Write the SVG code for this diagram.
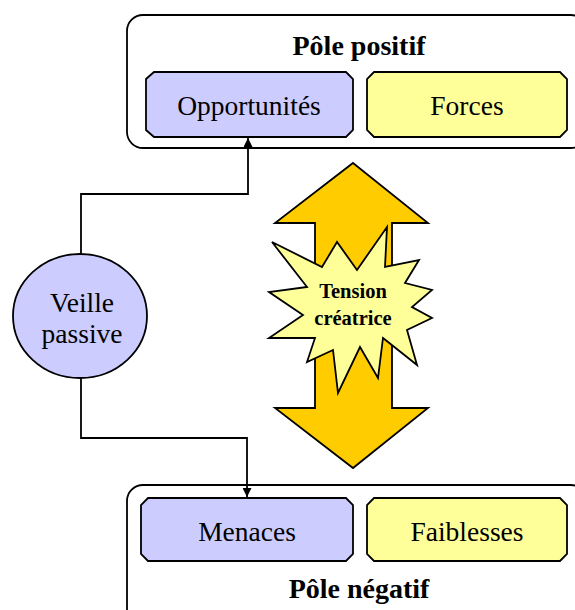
<svg xmlns="http://www.w3.org/2000/svg" width="575" height="610" viewBox="0 0 575 610">
<defs>
<style>
.outer{fill:#fff;stroke:#000;stroke-width:1.8}
.blue{fill:#ccccff;stroke:#000;stroke-width:1.8}
.yel{fill:#ffff99;stroke:#000;stroke-width:1.8}
.t{font-family:"Liberation Serif","Times New Roman",serif;font-size:27.5px;text-anchor:middle;fill:#000}
.b{font-family:"Liberation Serif","Times New Roman",serif;font-size:28px;font-weight:bold;text-anchor:middle;fill:#000}
.s{font-family:"Liberation Serif","Times New Roman",serif;font-size:20.5px;font-weight:bold;text-anchor:middle;fill:#000}
.c{fill:none;stroke:#000;stroke-width:1.8}
</style>
<marker id="ah" viewBox="0 0 10 10" refX="10" refY="5" markerWidth="5" markerHeight="5" orient="auto" markerUnits="strokeWidth">
<path d="M0,0 L10,5 L0,10 z" fill="#000"/>
</marker>
</defs>
<g id="pole-positif">
<rect class="outer" x="127" y="15" width="460" height="133" rx="16"/>
<text class="b" x="359" y="55">Pôle positif</text>
</g>
<g id="opportunites">
<path class="blue" d="M154,72 H346 L353,79 V130 L346,137 H154 L146,130 V79 Z"/>
<text class="t" x="249" y="115">Opportunités</text>
</g>
<g id="forces">
<path class="yel" d="M374,72 H560 L567,79 V130 L560,137 H374 L367,130 V79 Z"/>
<text class="t" x="467" y="115">Forces</text>
</g>
<g id="pole-negatif">
<rect class="outer" x="127" y="485" width="460" height="140" rx="16"/>
<text class="b" x="359" y="598">Pôle négatif</text>
</g>
<g id="menaces">
<path class="blue" d="M148,498 H346 L353,505 V554 L346,561 H148 L141,554 V505 Z"/>
<text class="t" x="247" y="541">Menaces</text>
</g>
<g id="faiblesses">
<path class="yel" d="M374,498 H560 L567,505 V554 L560,561 H374 L367,554 V505 Z"/>
<text class="t" x="467" y="541">Faiblesses</text>
</g>
<g id="veille-passive">
<ellipse class="blue" cx="80" cy="316" rx="67" ry="62"/>
<text class="t" x="82" y="312">Veille</text>
<text class="t" x="82" y="343">passive</text>
</g>
<g id="connectors">
<path class="c" d="M81,254 V194 H248 V138" marker-end="url(#ah)"/>
<path class="c" d="M81,378 V438 H247 V497" marker-end="url(#ah)"/>
</g>
<g id="tension-arrow">
<path d="M353,163 L428,223 H392 V408 H428 L353,468 L275,408 H315 V223 H275 Z" fill="#ffcc00" stroke="#000" stroke-width="1.8"/>
</g>
<g id="tension-creatrice">
<path class="yel" d="M272,242 L322,267 L337,242 L357,270 L387,227 L385,267 L419,260 L405,283 L432,290 L412,307 L432,318 L407,330 L417,365 L383,338 L378,378 L360,347 L338,393 L333,350 L307,362 L315,338 L269,338 L303,315 L269,292 L307,287 Z"/>
<text class="s" x="353" y="298">Tension</text>
<text class="s" x="353" y="325">créatrice</text>
</g>
</svg>
